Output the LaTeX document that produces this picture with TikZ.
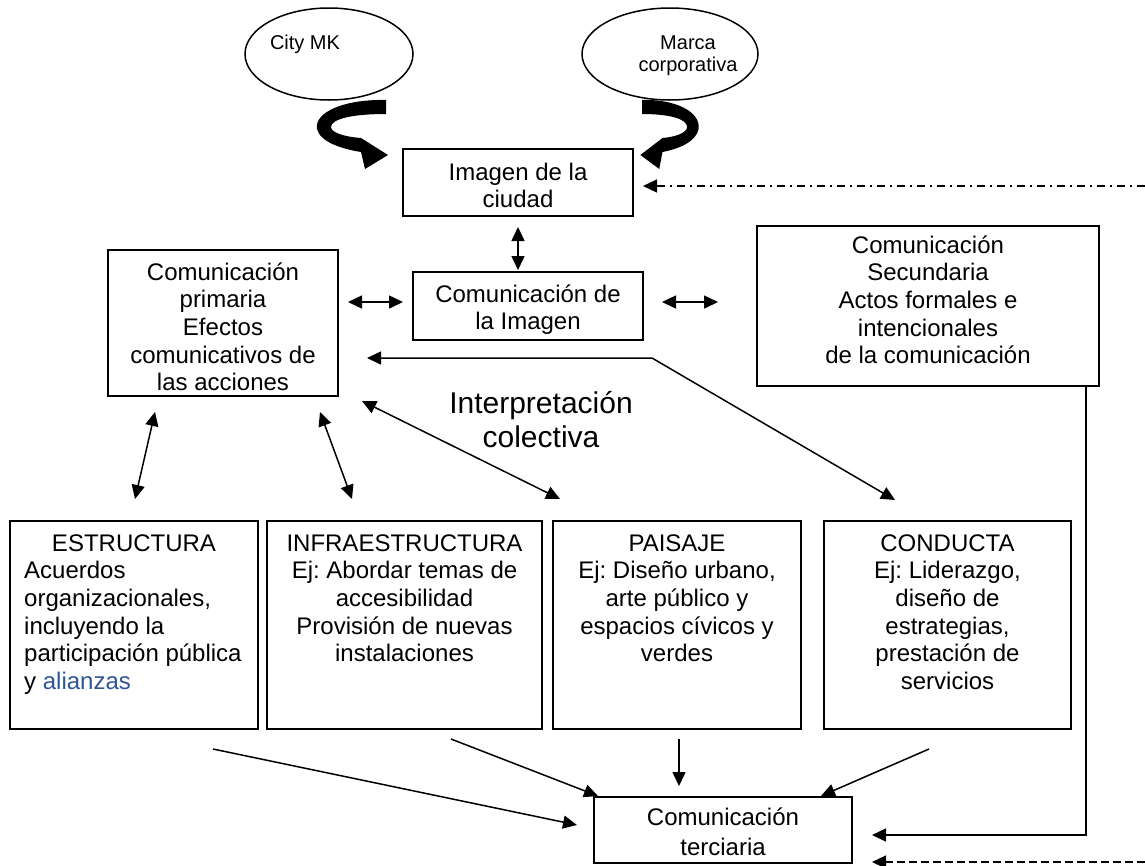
\documentclass[tikz,border=0pt]{standalone}
\usepackage{fontspec}
\setmainfont{Liberation Sans}
\usetikzlibrary{arrows.meta,shapes.geometric}
\definecolor{linkblue}{HTML}{2F5597}
\newcommand\tstrut{\rule{0pt}{18pt}}
\newcommand\elfont{\fontsize{20}{22}\selectfont}
\newcommand\bigfont{\fontsize{30}{34.5}\selectfont}
\frenchspacing

\tikzset{
  curvarrow/.pic={
    % thick curved block arrow, origin at the upper end of its tail
    \fill (0,0) .. controls (-41,-1) and (-72,12) .. (-69,29)
          .. controls (-66,42) and (-44,49) .. (-25,52)
          -- (-21,69) -- (2,55) -- (-25,38)
          .. controls (-40,37) and (-55,33) .. (-55,27)
          .. controls (-55,19) and (-34,14) .. (0,14) -- cycle;
  }
}

\begin{document}
\begin{tikzpicture}[x=1pt,y=-1pt,
  box/.style={draw, line width=1.8pt, inner sep=0pt},
  oval/.style={draw, ellipse, line width=1.5pt, inner sep=0pt},
  txt/.style={inner sep=0pt, align=center, anchor=north, font=\fontsize{24}{#1}\selectfont},
  txt/.default=27.6,
  conn/.style={line width=1.5pt, -{Triangle[length=14pt,width=13pt]}},
  dconn/.style={line width=1.5pt, {Triangle[length=14pt,width=13pt]}-{Triangle[length=14pt,width=13pt]}}
]
\useasboundingbox (0,0) rectangle (1145,865);
\fill[white] (0,0) rectangle (1145,865);

% --- top: sources of the city image
\node[oval, minimum width=168pt, minimum height=92pt] (citymk) at (329,54) {};
\node[inner sep=0pt, font=\elfont, anchor=base] (citymktext) at (305,49) {City MK};
\node[oval, minimum width=176pt, minimum height=92pt] (marca) at (670,54) {};
\node[inner sep=0pt, align=center, anchor=north, font=\elfont] (marcatext) at (688,34)
  {\rule{0pt}{15pt}Marca\\corporativa};

\pic at (386,100) {curvarrow};
\pic[xscale=-0.82] at (642,100) {curvarrow};

% --- image of the city and its communication
\node[box, minimum width=230pt, minimum height=67pt] (ciudad) at (518,182.5) {};
\node[txt] (ciudadtext) at (518,162) {\tstrut Imagen de la\\ciudad};

\node[box, minimum width=230pt, minimum height=68pt] (imagen) at (528,306) {};
\node[txt] (imagentext) at (528,284) {\tstrut Comunicación de\\la Imagen};

\node[box, minimum width=230pt, minimum height=146pt] (primaria) at (223,323) {};
\node[txt] (primariatext) at (223,262) {\tstrut Comunicación\\primaria\\Efectos\\comunicativos de\\las acciones};

\node[box, minimum width=342pt, minimum height=160pt] (secundaria) at (928,306) {};
\node[txt] (secundariatext) at (928,235) {\tstrut Comunicación\\Secundaria\\Actos formales e\\intencionales\\de la comunicación};

\node[inner sep=0pt, align=center, anchor=north, font=\bigfont] (interp) at (541,390)
  {\rule{0pt}{23pt}Interpretación\\colectiva};

% --- the four fields
\node[box, minimum width=248pt, minimum height=208pt] (estructura) at (134,625) {};
\node[txt] (esttitle) at (134,533) {\tstrut ESTRUCTURA};
\node[txt, align=left, anchor=north west] (estbody) at (24,560.6)
  {\tstrut Acuerdos\\organizacionales,\\incluyendo la\\participación pública\\y \textcolor{linkblue}{alianzas}};

\node[box, minimum width=275pt, minimum height=208pt] (infra) at (404.5,625) {};
\node[txt] (infratext) at (404.5,533) {\tstrut INFRAESTRUCTURA\\Ej: Abordar temas de\\accesibilidad\\Provisión de nuevas\\instalaciones};

\node[box, minimum width=248pt, minimum height=208pt] (paisaje) at (677,625) {};
\node[txt] (paisajetext) at (677,533) {\tstrut PAISAJE\\Ej: Diseño urbano,\\arte público y\\espacios cívicos y\\verdes};

\node[box, minimum width=247pt, minimum height=208pt] (conducta) at (947.5,625) {};
\node[txt] (conductatext) at (947.5,533) {\tstrut CONDUCTA\\Ej: Liderazgo,\\diseño de\\estrategias,\\prestación de\\servicios};

\node[box, minimum width=258pt, minimum height=66pt] (terciaria) at (723,830) {};
\node[txt=30] (terciariatext) at (723,807) {\tstrut Comunicación\\terciaria};

% --- free ends of the connectors
\coordinate (ia) at (518,227);   \coordinate (ib) at (518,270);
\coordinate (pl1) at (348,302);  \coordinate (pl2) at (403,302);
\coordinate (pr1) at (662,302);  \coordinate (pr2) at (718,302);
\coordinate (lg1) at (367,358);  \coordinate (lgc) at (652,358);  \coordinate (lg2) at (895,500);
\coordinate (e1) at (155,412);   \coordinate (e2) at (135,499);
\coordinate (f1) at (320,412);   \coordinate (f2) at (352,499);
\coordinate (g1) at (362,401);   \coordinate (g2) at (560,499);
\coordinate (t1) at (213,749);   \coordinate (t1e) at (577,825);
\coordinate (t2) at (451,739);   \coordinate (t2e) at (598,796);
\coordinate (t3) at (679,739);   \coordinate (t3e) at (679,786);
\coordinate (t4) at (929,749);   \coordinate (t4e) at (821,796);
\coordinate (sdown) at (1086,835); \coordinate (stip) at (872,835);
\coordinate (edgetop) at (1145,186); \coordinate (ddtip) at (643,186);
\coordinate (edgebot) at (1145,862); \coordinate (dtip) at (872,862);

% --- connectors
\draw[dconn] (ia) -- (ib);
\draw[dconn] (pl1) -- (pl2);
\draw[dconn] (pr1) -- (pr2);
\draw[dconn] (lg1) -- (lgc) -- (lg2);
\draw[dconn] (e1) -- (e2);
\draw[dconn] (f1) -- (f2);
\draw[dconn] (g1) -- (g2);
\draw[conn] (t1) -- (t1e);
\draw[conn] (t2) -- (t2e);
\draw[conn] (t3) -- (t3e);
\draw[conn] (t4) -- (t4e);
\draw[conn] (secundaria.south -| sdown) -- (sdown) -- (stip);
\draw[conn, line width=1.2pt, dash pattern=on 8pt off 5pt on 2pt off 5pt] (edgetop) -- (ddtip);
\draw[conn, line width=1.5pt, dash pattern=on 8pt off 4pt] (edgebot) -- (dtip);
\end{tikzpicture}
\end{document}
